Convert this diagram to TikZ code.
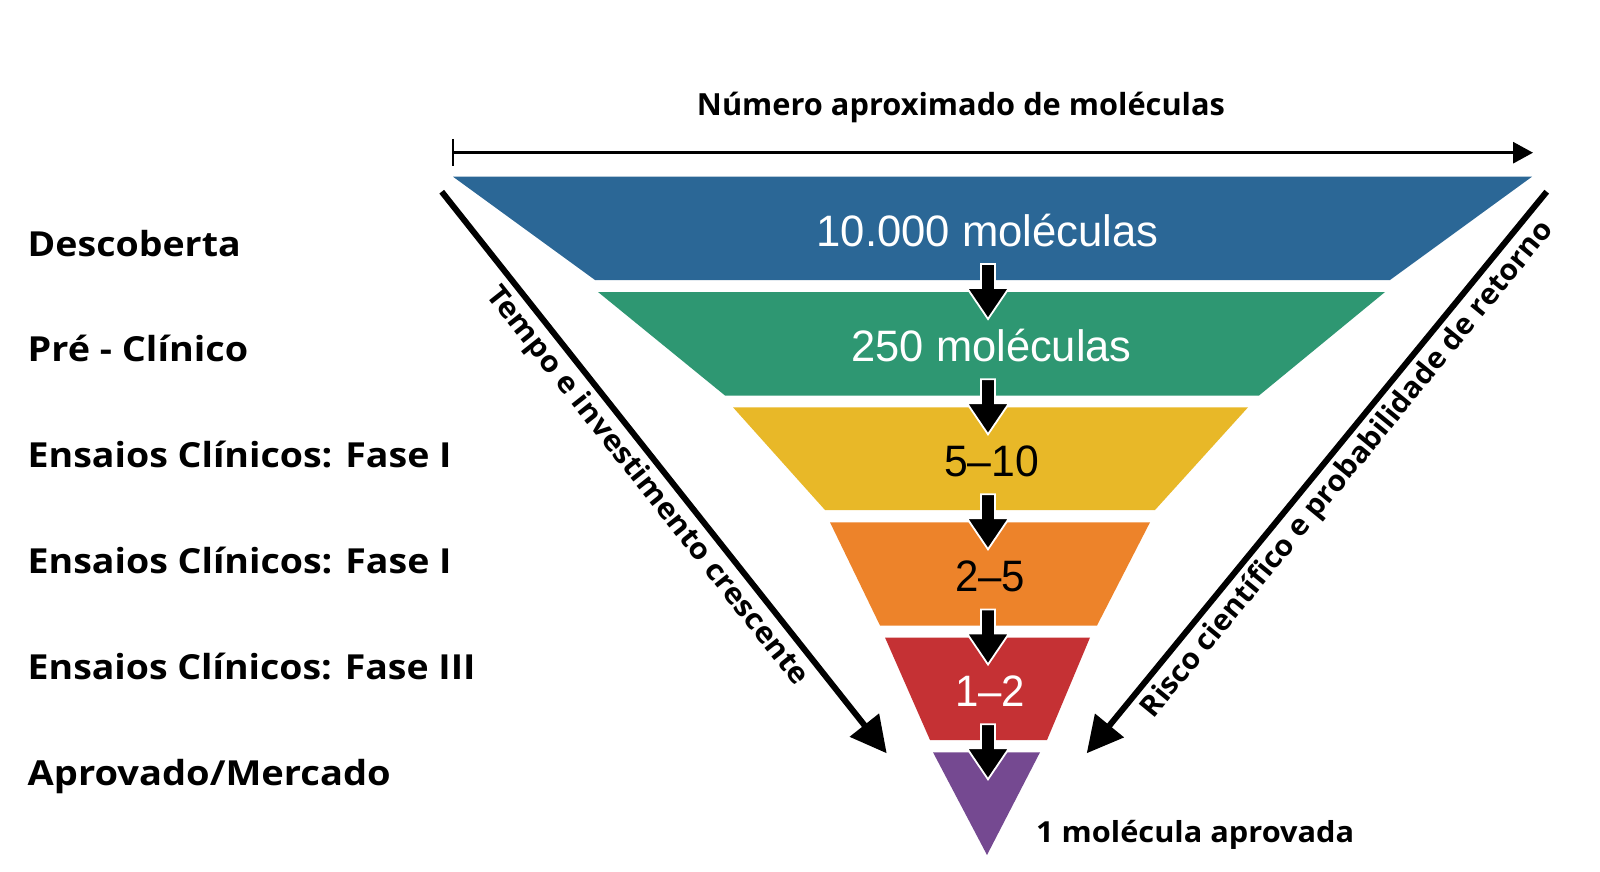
\documentclass[tikz,border=0pt]{standalone}
\usepackage{fontspec}
\setmainfont{Open Sans}
\newfontfamily\numfont{Liberation Sans}
\usetikzlibrary{arrows.meta}
\definecolor{cblue}{RGB}{43,103,150}
\definecolor{cgreen}{RGB}{46,151,114}
\definecolor{cyellow}{RGB}{232,184,40}
\definecolor{corange}{RGB}{237,131,42}
\definecolor{cred}{RGB}{197,49,52}
\definecolor{cpurple}{RGB}{117,73,145}
\newcommand{\fitw}[2]{\resizebox{#1pt}{\height}{#2}}
\begin{document}
\begin{tikzpicture}[x=1pt,y=-1pt,
  lbl/.style={anchor=base west,inner sep=0pt,font=\bfseries\fontsize{34.5}{38}\selectfont},
  num/.style={anchor=base,inner sep=0pt,font=\numfont\fontsize{44}{48}\selectfont},
  sidetxt/.style={inner sep=0pt,font=\bfseries\fontsize{29}{32}\selectfont},
  bigarrow/.style={line width=6pt,-{Triangle[length=36pt,width=36pt]}},
  darrow/.pic={\filldraw[fill=black,draw=white,line width=1.8pt,line join=miter]
     (-7,0) -- (7,0) -- (7,24) -- (21,24) -- (0,55) -- (-21,24) -- (-7,24) -- cycle;}
  ]
\useasboundingbox (0,0) rectangle (1600,872);
\fill[white] (0,0) rectangle (1600,872);

% funnel bands
\fill[cblue] (453,176.7) -- (1532,176.7) -- (1390,280) -- (595,280) -- cycle;
\fill[cgreen] (598,292) -- (1385,292) -- (1259,395.5) -- (725,395.5) -- cycle;
\fill[cyellow] (733,407.3) -- (1248,407.3) -- (1155,510) -- (825,510) -- cycle;
\fill[corange] (830,522.3) -- (1150,522.3) -- (1097,625.5) -- (880,625.5) -- cycle;
\fill[cred] (885,637.5) -- (1090,637.5) -- (1047,740) -- (930,740) -- cycle;
\fill[cpurple] (933,752.3) -- (1040,752.3) -- (987,855) -- cycle;

% band texts
\node[num,text=white] (n1) at (987.5,246.7) {\fitw{342}{10.000 moléculas}};
\node[num,text=white] (n2) at (991.7,361.7) {\fitw{280}{250 moléculas}};
\node[num] (n3) at (991.5,476.7) {\fitw{95}{5–10}};
\node[num] (n4) at (990,591.7) {\fitw{70}{2–5}};
\node[num,text=white] (n5) at (990,706.7) {\fitw{70}{1–2}};

% small arrows between bands
\pic at (988,264) {darrow};
\pic at (988,379.3) {darrow};
\pic at (988,494.3) {darrow};
\pic at (988,609.5) {darrow};
\pic at (988,724.3) {darrow};

% title and top axis
\node[anchor=base,inner sep=0pt,font=\bfseries\fontsize{30.5}{34}\selectfont] (title) at (961,116) {\fitw{528}{Número aproximado de moléculas}};
\coordinate (ta) at (453,152.7);
\coordinate (tb) at (1533,152.7);
\coordinate (tk1) at (453,139);
\coordinate (tk2) at (453,166);
\draw[line width=3pt,-{Triangle[length=20pt,width=21pt]}] (ta) -- (tb);
\draw[line width=2.5pt] (tk1) -- (tk2);

% diagonal arrows
\coordinate (ls) at (441.7,191.7);
\coordinate (le) at (886.7,753.3);
\draw[bigarrow] (ls) -- node[sidetxt,sloped,below=5pt,pos=0.5] (lt) {\fitw{500}{Tempo e investimento crescente}} (le);
\coordinate (rs) at (1546.7,191.7);
\coordinate (re) at (1086.7,753.3);
\draw[bigarrow] (rs) -- node[sidetxt,sloped,below=5pt,pos=0.47] (rt) {\fitw{632}{Risco científico e probabilidade de retorno}} (re);

% bottom label
\node[anchor=base west,inner sep=0pt,font=\bfseries\fontsize{29}{32}\selectfont] (appr) at (1036,842) {\fitw{318}{1 molécula aprovada}};

% left labels
\node[lbl] (l1) at (27.5,256) {\fitw{213}{Descoberta}};
\node[lbl] (l2) at (27.5,361) {\fitw{220.5}{Pré - Clínico}};
\node[lbl] (l3) at (27.5,467) {\fitw{424}{Ensaios Clínicos: Fase I}};
\node[lbl] (l4) at (27.5,573) {\fitw{424}{Ensaios Clínicos: Fase I}};
\node[lbl] (l5) at (27.5,679) {\fitw{448}{Ensaios Clínicos: Fase III}};
\node[lbl] (l6) at (27.5,785) {\fitw{363}{Aprovado/Mercado}};
\end{tikzpicture}
\end{document}
